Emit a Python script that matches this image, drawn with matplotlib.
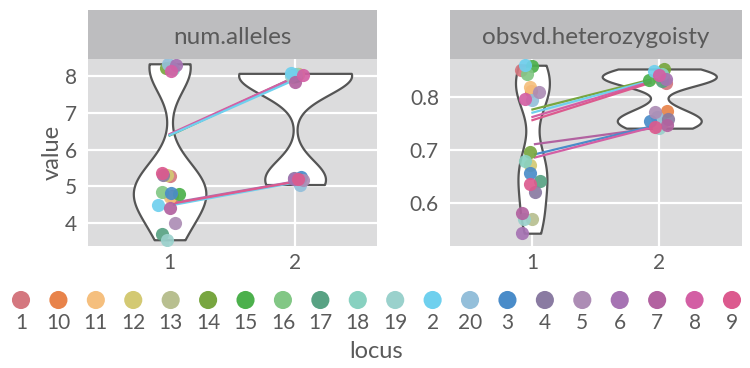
import numpy as np
import matplotlib
matplotlib.use('Agg')
import matplotlib.pyplot as plt

plt.rcParams['font.family'] = ['Lato', 'DejaVu Sans']

# individuals, in legend (string-sorted) order
ids = ['1', '10', '11', '12', '13', '14', '15', '16', '17', '18',
       '19', '2', '20', '3', '4', '5', '6', '7', '8', '9']
id_colors = ['#d4777f', '#e8834a', '#f5bf7e', '#d3c973', '#b8bf90',
             '#78a640', '#4cb04c', '#82c785', '#58a283', '#88d1c0',
             '#9ad1cc', '#6fd0ee', '#94bfda', '#4a8cc9', '#8a7ba2',
             '#ad8db5', '#a673b3', '#b262a0', '#d35fa4', '#dc5a8e']

facets = ['num.alleles', 'obsvd.heterozygoisty']
loci = [1, 2]

# num.alleles values per individual (locus 1, locus 2) and horizontal jitter
alleles_l1 = [5.28, 4.75, 4.70, 5.32, 8.25, 8.21, 4.78, 4.85, 3.70, 8.20,
              3.55, 4.50, 8.33, 4.82, 5.30, 4.00, 8.30, 4.40, 8.14, 5.35]
alleles_l1_dx = [0.00, 0.02, 0.00, -0.02, 0.01, -0.03, 0.075, -0.06, -0.06, 0.03,
                 -0.02, -0.09, -0.01, 0.01, -0.05, 0.04, 0.05, 0.00, 0.01, -0.06]
alleles_l2 = [8.05, 8.02, 8.00, 8.04, 7.98, 5.20, 8.02, 8.03, 8.01, 8.06,
              8.00, 8.07, 5.05, 5.26, 5.23, 5.16, 5.21, 7.84, 8.03, 5.20]
alleles_l2_dx = [0.02, 0.00, 0.00, 0.02, -0.02, 0.03, -0.02, 0.00, 0.01, 0.01,
                 -0.03, -0.03, 0.04, 0.05, -0.01, 0.06, -0.01, 0.00, 0.06, 0.02]

# obsvd.heterozygoisty values per individual
het_l1 = [0.850, 0.811, 0.819, 0.672, 0.570, 0.697, 0.858, 0.843, 0.642, 0.680,
          0.570, 0.859, 0.794, 0.657, 0.621, 0.808, 0.544, 0.581, 0.795, 0.636]
het_l1_dx = [-0.09, -0.01, -0.02, -0.02, 0.00, -0.02, 0.00, -0.04, 0.06, -0.06,
             -0.07, -0.06, 0.00, -0.02, 0.02, 0.05, -0.08, -0.08, -0.06, -0.02]
het_l2 = [0.825, 0.774, 0.835, 0.750, 0.840, 0.852, 0.831, 0.838, 0.830, 0.842,
          0.741, 0.849, 0.762, 0.755, 0.758, 0.772, 0.833, 0.747, 0.841, 0.744]
het_l2_dx = [0.05, 0.06, 0.00, 0.02, 0.00, 0.04, -0.08, 0.03, 0.02, 0.02,
             0.00, -0.04, -0.02, -0.07, 0.07, -0.03, 0.05, 0.06, 0.00, -0.03]

# connecting lines: facet, individual, (x, y) at locus 1 and locus 2
line_facet = [0, 0, 0, 0, 0, 0, 0, 1, 1, 1, 1, 1, 1, 1]
line_id = ['15', '7', '8', '2', '2', '6', '9', '14', '2', '8', '9', '7', '3', '8']
line_x1 = [1.0, 1.0, 1.0, 1.0, 1.035, 1.035, 1.035, 1.0, 1.0, 1.0, 1.0, 1.02, 1.02, 1.02]
line_y1 = [6.38, 6.40, 6.42, 6.39, 4.50, 4.56, 4.54,
           0.776, 0.770, 0.762, 0.756, 0.711, 0.692, 0.686]
line_x2 = [2.0, 2.0, 2.0, 2.0, 1.99, 1.99, 1.99, 1.93, 1.93, 1.93, 1.93, 1.95, 1.95, 1.95]
line_y2 = [7.97, 7.95, 7.97, 7.90, 5.10, 5.13, 5.12,
           0.832, 0.830, 0.828, 0.826, 0.741, 0.745, 0.743]

txt = '#5a5a5a'
panel_bg = '#dcdcdd'
strip_bg = '#bdbdbf'
bw_adjust = 0.75


def density(vals, n=512):
    vals = np.asarray(vals)
    sd = vals.std(ddof=1)
    iqr = np.subtract(*np.percentile(vals, [75, 25]))
    bw = bw_adjust * 0.9 * min(sd, iqr / 1.34) * len(vals) ** -0.2
    ys = np.linspace(vals.min(), vals.max(), n)
    d = np.exp(-0.5 * ((ys[:, None] - vals[None, :]) / bw) ** 2).sum(1)
    return ys, d / (len(vals) * bw * np.sqrt(2 * np.pi))


fig = plt.figure(figsize=(7.5, 3.68), dpi=100)

panel_data = [([alleles_l1, alleles_l2], [alleles_l1_dx, alleles_l2_dx]),
              ([het_l1, het_l2], [het_l1_dx, het_l2_dx])]
panel_left = [88 / 750, 450 / 750]
panel_w = [288.7 / 750, 291.7 / 750]
ylims = [(3.38, 8.46), (0.52, 0.8707)]
yticks = [[4, 5, 6, 7, 8], [0.6, 0.7, 0.8]]
ylabels = [['4', '5', '6', '7', '8'], ['0.6', '0.7', '0.8']]

for p in range(2):
    ax = fig.add_axes([panel_left[p], 122 / 368, panel_w[p], 187 / 368])
    ax.set_facecolor(panel_bg)
    vals, dxs = panel_data[p]

    dens = [density(v) for v in vals]
    dmax = max(d.max() for _, d in dens)
    for k, (ys, d) in enumerate(dens):
        half = 0.45 * d / dmax
        ax.fill_betweenx(ys, loci[k] - half, loci[k] + half, facecolor='white',
                         edgecolor='#555555', linewidth=1.6, zorder=2)

    for j in range(len(line_id)):
        if line_facet[j] != p:
            continue
        c = id_colors[ids.index(line_id[j])]
        ax.plot([line_x1[j], line_x2[j]], [line_y1[j], line_y2[j]], color=c,
                lw=1.6, zorder=3)

    for k in range(2):
        for i in range(len(ids)):
            ax.scatter(loci[k] + dxs[k][i], vals[k][i], s=90, color=id_colors[i],
                       alpha=0.92, linewidths=0, zorder=4)

    ax.set_xlim(0.35, 2.65)
    ax.set_ylim(*ylims[p])
    ax.set_xticks(loci)
    ax.set_xticklabels(['1', '2'])
    ax.set_yticks(yticks[p])
    ax.set_yticklabels(ylabels[p])
    ax.grid(True, color='white', lw=1.6, zorder=0)
    ax.set_axisbelow(True)
    ax.tick_params(length=0, labelsize=15, colors=txt)
    ax.tick_params(axis='y', pad=8)
    ax.tick_params(axis='x', pad=5)
    for s in ax.spines.values():
        s.set_visible(False)

    sax = fig.add_axes([panel_left[p], 309 / 368, panel_w[p], 49 / 368])
    sax.set_facecolor(strip_bg)
    sax.set_xticks([])
    sax.set_yticks([])
    for s in sax.spines.values():
        s.set_visible(False)
    sax.text(0.5, 0.306, facets[p], ha='center', va='baseline', fontsize=17.5,
             color=txt, transform=sax.transAxes)

fig.text(52 / 750, 1 - 152 / 368, 'value', rotation=90, ha='center', va='center',
         fontsize=17, color=txt)
fig.text(376 / 750, 1 - 352 / 368, 'locus', ha='center', va='center',
         fontsize=17, color=txt)

# legend row along the bottom
lax = fig.add_axes([0, 0, 1, 96 / 368])
lax.axis('off')
lax.set_xlim(-21 / 37.42, -21 / 37.42 + 750 / 37.42)
lax.set_ylim(0, 96)
pos = np.arange(len(ids))
lax.scatter(pos, np.full(len(ids), 68), s=170, color=id_colors, linewidths=0)
for i in range(len(ids)):
    lax.text(pos[i], 45, ids[i], ha='center', va='center', fontsize=15, color=txt)

fig.savefig('out.png', dpi=100)
